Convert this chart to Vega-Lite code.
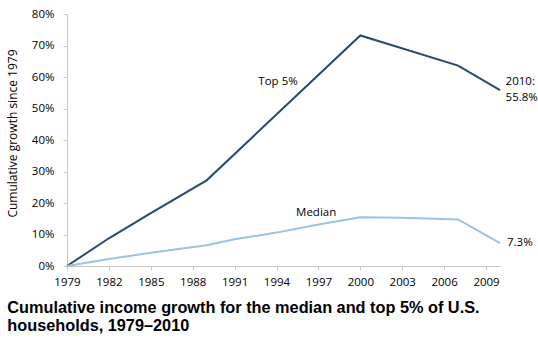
{
  "$schema": "https://vega.github.io/schema/vega-lite/v6.json",
  "width": 433,
  "height": 252,
  "autosize": "none",
  "padding": {"left": 67, "top": 14, "right": 38, "bottom": 72},
  "background": "white",
  "config": {
    "view": {"stroke": null},
    "font": "Open Sans",
    "axis": {"grid": false, "domainColor": "#c8c8c8", "tickColor": "#c8c8c8", "labelColor": "#000", "labelFont": "Open Sans", "labelFontSize": 11.5, "titleFont": "Open Sans", "titleFontWeight": "normal", "titleFontSize": 12, "titleColor": "#000", "tickSize": 4, "labelOverlap": false}
  },
  "title": {
    "text": ["Cumulative income growth for the median and top 5% of U.S.", "households, 1979–2010"],
    "orient": "bottom",
    "anchor": "start",
    "font": "Liberation Sans",
    "fontSize": 16.3,
    "fontWeight": "bold",
    "color": "#000",
    "lineHeight": 18.5,
    "dx": 1,
    "offset": 12
  },
  "datasets": {
    "series": [
      {"year": 1979, "group": "Top 5%", "growth": 0},
      {"year": 1982, "group": "Top 5%", "growth": 0.088},
      {"year": 1985, "group": "Top 5%", "growth": 0.168},
      {"year": 1989, "group": "Top 5%", "growth": 0.272},
      {"year": 2000, "group": "Top 5%", "growth": 0.732},
      {"year": 2007, "group": "Top 5%", "growth": 0.636},
      {"year": 2010, "group": "Top 5%", "growth": 0.558},
      {"year": 1979, "group": "Median", "growth": 0},
      {"year": 1982, "group": "Median", "growth": 0.022},
      {"year": 1985, "group": "Median", "growth": 0.042},
      {"year": 1989, "group": "Median", "growth": 0.066},
      {"year": 1991, "group": "Median", "growth": 0.085},
      {"year": 1994, "group": "Median", "growth": 0.106},
      {"year": 1997, "group": "Median", "growth": 0.132},
      {"year": 2000, "group": "Median", "growth": 0.155},
      {"year": 2003, "group": "Median", "growth": 0.153},
      {"year": 2007, "group": "Median", "growth": 0.148},
      {"year": 2010, "group": "Median", "growth": 0.073}
    ],
    "labels": [
      {"year": 1992.7, "growth": 0.584, "label": "Top 5%"},
      {"year": 1995.4, "growth": 0.168, "label": "Median"},
      {"year": 2010.4, "growth": 0.584, "label": "2010:"},
      {"year": 2010.4, "growth": 0.533, "label": "55.8%"},
      {"year": 2010.5, "growth": 0.072, "label": "7.3%"}
    ]
  },
  "encoding": {
    "x": {
      "field": "year", "type": "quantitative",
      "scale": {"domain": [1979, 2010], "nice": false, "zero": false},
      "axis": {"title": null, "values": [1979, 1982, 1985, 1988, 1991, 1994, 1997, 2000, 2003, 2006, 2009], "format": "d", "labelPadding": 6, "labelFlush": false}
    },
    "y": {
      "field": "growth", "type": "quantitative",
      "scale": {"domain": [0, 0.8], "nice": false},
      "axis": {"title": "Cumulative growth since 1979", "format": ".0%", "values": [0, 0.1, 0.2, 0.3, 0.4, 0.5, 0.6, 0.7, 0.8], "labelOverlap": false, "labelPadding": 9, "titlePadding": 12, "titleY": 119}
    }
  },
  "layer": [
    {
      "data": {"name": "series"},
      "mark": {"type": "line", "strokeWidth": 2, "clip": false},
      "encoding": {
        "color": {
          "field": "group", "type": "nominal",
          "scale": {"domain": ["Top 5%", "Median"], "range": ["#274a6d", "#9cc2e3"]},
          "legend": null
        }
      }
    },
    {
      "data": {"name": "labels"},
      "mark": {"type": "text", "align": "left", "baseline": "middle", "font": "Open Sans", "fontSize": 11.5, "color": "#000"},
      "encoding": {
        "text": {"field": "label", "type": "nominal"}
      }
    }
  ]
}
